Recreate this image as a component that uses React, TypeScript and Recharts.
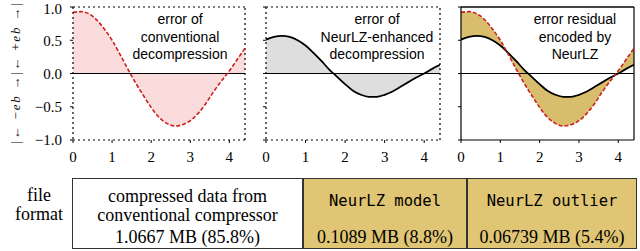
import React from "react"
import { ComposedChart, Area, Line, XAxis, YAxis, ReferenceLine } from "recharts"

// sample positions along x, and the two error curves
const xs = [0, 0.2, 0.4, 0.6, 0.8, 1.0, 1.2, 1.4, 1.6, 1.8, 2.0, 2.2, 2.4, 2.6, 2.8, 3.0, 3.2, 3.4, 3.6, 3.8, 4.0, 4.2, 4.4]
const conventionalErr = [0.92, 0.93, 0.9, 0.81, 0.67, 0.5, 0.29, 0.07, -0.14, -0.33, -0.51, -0.66, -0.75, -0.79, -0.77, -0.71, -0.6, -0.45, -0.27, -0.11, 0.04, 0.21, 0.38]
const neurlzErr = [0.51, 0.55, 0.565, 0.55, 0.5, 0.42, 0.31, 0.19, 0.06, -0.05, -0.16, -0.26, -0.32, -0.35, -0.35, -0.32, -0.27, -0.2, -0.13, -0.06, 0.0, 0.07, 0.13]

const xTicks = [0, 1, 2, 3, 4]
const yTicks = [-1, -0.5, 0, 0.5, 1]

const noteLines = [
  ["error of", "conventional", "decompression"],
  ["error of", "NeurLZ-enhanced", "decompression"],
  ["error residual", "encoded by", "NeurLZ"],
]

const fileParts = ["compressed data from conventional compressor", "NeurLZ model", "NeurLZ outlier"]
const fileSizes = ["1.0667 MB (85.8%)", "0.1089 MB (8.8%)", "0.06739 MB (5.4%)"]

const data = xs.map((x, i) => ({
  x,
  conv: conventionalErr[i],
  enh: neurlzErr[i],
  band: [neurlzErr[i], conventionalErr[i]],
}))

const RED = "#cc1f1f"
const TAN = "#d8bd6c"
const TABLE_TAN = "#dfc574"
const serif = "'Liberation Serif', serif"
const sans = "'Liberation Sans', Arial, sans-serif"
const mono = "'DejaVu Sans Mono', monospace"

const fmtY = (v: number) => (v < 0 ? "\u2212" : "") + Math.abs(v).toFixed(1)

const YLabel = (props: any) => {
  const vb = props.viewBox || { y: 7, height: 133 }
  const cy = vb.y + vb.height / 2
  return (
    <text
      x={15}
      y={cy}
      transform={`rotate(-90 15 ${cy})`}
      textAnchor="middle"
      dominantBaseline="central"
      textLength={140}
      lengthAdjust="spacing"
      fontFamily={serif}
      fontSize={13}
      fill="#000"
    >
      |← −<tspan fontStyle="italic">eb</tspan> →|← +<tspan fontStyle="italic">eb</tspan> →|
    </text>
  )
}

function Panel({ kind }: { kind: 0 | 1 | 2 }) {
  const dotted = kind !== 2
  const axisLine = dotted
    ? { stroke: "#000", strokeDasharray: "2 3", strokeWidth: 1.2 }
    : { stroke: "#000", strokeWidth: 1.2 }
  const tickStyle = { fontFamily: serif, fontSize: 15, fill: "#000" }
  const yw = kind === 0 ? 73 : 20
  const w = kind === 0 ? 250 : kind === 1 ? 199 : 198
  return (
    <ComposedChart width={w} height={170} data={data} margin={{ top: 7, right: 5, bottom: 0, left: 0 }}>
      <XAxis
        dataKey="x"
        type="number"
        domain={[0, 4.4]}
        allowDataOverflow
        ticks={xTicks}
        height={30}
        tickSize={3}
        tickMargin={8}
        tick={tickStyle}
        axisLine={axisLine}
        tickLine={{ stroke: "#000" }}
      />
      <YAxis
        type="number"
        domain={[-1, 1]}
        allowDataOverflow
        ticks={yTicks}
        width={yw}
        tickSize={3}
        tickMargin={8}
        tick={tickStyle}
        tickFormatter={kind === 0 ? fmtY : () => ""}
        axisLine={axisLine}
        tickLine={{ stroke: "#000" }}
        label={kind === 0 ? { content: (p: any) => <YLabel {...p} /> } : undefined}
      />
      {kind === 0 && (
        <Area dataKey="conv" type="monotone" baseValue={0} fill="#fbdcdc" fillOpacity={1} stroke="none" isAnimationActive={false} />
      )}
      {kind === 1 && (
        <Area dataKey="enh" type="monotone" baseValue={0} fill="#dedede" fillOpacity={1} stroke="none" isAnimationActive={false} />
      )}
      {kind === 2 && (
        <Area dataKey="band" type="monotone" fill={TAN} fillOpacity={1} stroke="none" isAnimationActive={false} />
      )}
      <ReferenceLine y={0} stroke="#000" strokeWidth={1.2} />
      {dotted ? (
        <ReferenceLine y={1} stroke="#000" strokeDasharray="2 3" strokeWidth={1.2} />
      ) : (
        <ReferenceLine y={1} stroke="#444" strokeWidth={2} />
      )}
      <ReferenceLine x={4.4} stroke="#000" strokeDasharray={dotted ? "2 3" : undefined} strokeWidth={1.2} />
      {kind !== 0 && (
        <Line dataKey="enh" type="monotone" stroke="#000" strokeWidth={1.8} dot={false} isAnimationActive={false} />
      )}
      {kind !== 1 && (
        <Line dataKey="conv" type="monotone" stroke={RED} strokeWidth={1.6} strokeDasharray="4 2" dot={false} isAnimationActive={false} />
      )}
    </ComposedChart>
  )
}

const panelLeft = [0, 246, 441]
const noteCenter = [180, 377, 575]

export default function App() {
  const colW = [231, 164, 170]
  const colX = [72, 303, 467]
  return (
    <div style={{ position: "fixed", left: 0, top: 0, width: 640, height: 251, background: "#fff", overflow: "hidden" }}>
      {[0, 1, 2].map((k) => (
        <div key={k} style={{ position: "absolute", left: panelLeft[k], top: 0 }}>
          <Panel kind={k as 0 | 1 | 2} />
        </div>
      ))}
      {noteLines.map((lines, k) => (
        <div
          key={"n" + k}
          style={{
            position: "absolute",
            left: noteCenter[k] - 80,
            width: 160,
            top: 11,
            textAlign: "center",
            fontFamily: sans,
            fontSize: 14,
            lineHeight: "17.5px",
            color: "#000",
          }}
        >
          {lines.map((l, i) => (
            <div key={i}>{l}</div>
          ))}
        </div>
      ))}

      {/* file format row */}
      <div style={{ position: "absolute", left: 0, width: 78, top: 186, textAlign: "center", fontFamily: serif, fontSize: 18, lineHeight: "19px" }}>
        <div>file</div>
        <div>format</div>
      </div>
      <div style={{ position: "absolute", left: 72, top: 178, width: 565, height: 71, border: "1px solid #333", boxSizing: "border-box" }} />
      {fileParts.map((part, k) => (
        <div
          key={"c" + k}
          style={{
            position: "absolute",
            left: colX[k],
            top: 178,
            width: colW[k],
            height: 71,
            boxSizing: "border-box",
            border: "1px solid #333",
            background: k === 0 ? "#fff" : TABLE_TAN,
            fontFamily: serif,
            fontSize: 18,
            color: "#000",
            textAlign: "center",
          }}
        >
          {k === 0 ? (
            <>
              <div style={{ position: "absolute", left: 0, right: 0, top: 8, lineHeight: "19px" }}>compressed data from</div>
              <div style={{ position: "absolute", left: 0, right: 0, top: 27, lineHeight: "19px" }}>conventional compressor</div>
            </>
          ) : (
            <div style={{ position: "absolute", left: 0, right: 0, top: 13, lineHeight: "19px", fontFamily: mono, fontSize: 15.5 }}>
              {part}
            </div>
          )}
          <div style={{ position: "absolute", left: 0, right: 0, top: 49, lineHeight: "19px" }}>{fileSizes[k]}</div>
        </div>
      ))}
    </div>
  )
}
